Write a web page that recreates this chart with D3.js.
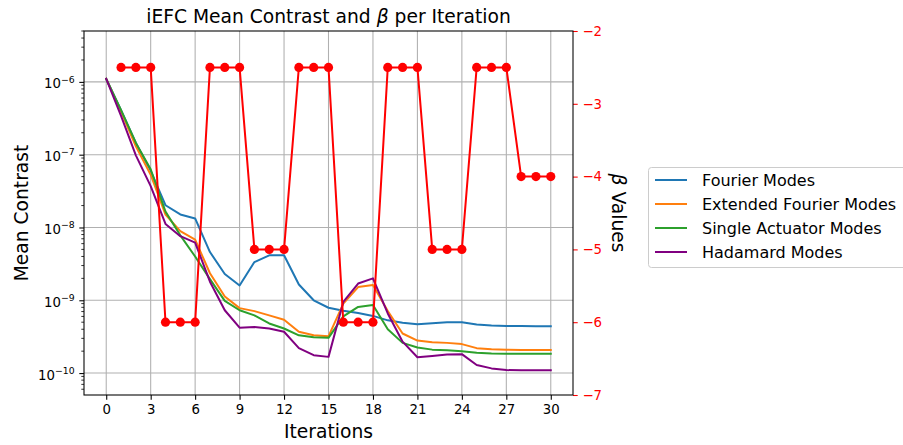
<!DOCTYPE html>
<html>
<head>
<meta charset="utf-8">
<script src="https://cdn.jsdelivr.net/npm/d3@7"></script>
<style>
  body { margin: 0; background: #fff; }
  svg { display: block; font-family: "DejaVu Sans", sans-serif; }
</style>
</head>
<body>
<svg id="chart" width="903" height="445"></svg>
<script>
// Iteration index shared by all contrast series
const iterations = [0, 1, 2, 3, 4, 5, 6, 7, 8, 9, 10, 11, 12, 13, 14, 15,
  16, 17, 18, 19, 20, 21, 22, 23, 24, 25, 26, 27, 28, 29, 30];

// Mean contrast per iteration for each calibration mode set
const fourierModes = [1.1e-6, 4.1e-7, 1.45e-7, 6.0e-8, 2.02e-8, 1.51e-8, 1.33e-8, 4.6e-9,
  2.3e-9, 1.6e-9, 3.35e-9, 4.15e-9, 4.15e-9, 1.65e-9, 1.0e-9, 7.9e-10, 7.2e-10, 6.7e-10,
  6.1e-10, 5.3e-10, 4.9e-10, 4.7e-10, 4.85e-10, 5.0e-10, 5.0e-10, 4.65e-10, 4.5e-10,
  4.45e-10, 4.42e-10, 4.4e-10, 4.4e-10];
const extendedFourierModes = [1.1e-6, 3.9e-7, 1.3e-7, 5.3e-8, 1.5e-8, 8.9e-9, 6.8e-9, 2.35e-9,
  1.13e-9, 7.8e-10, 7.1e-10, 6.2e-10, 5.4e-10, 3.7e-10, 3.3e-10, 3.2e-10, 9.0e-10, 1.52e-9,
  1.62e-9, 7.1e-10, 3.5e-10, 2.8e-10, 2.65e-10, 2.6e-10, 2.5e-10, 2.2e-10, 2.13e-10,
  2.1e-10, 2.08e-10, 2.08e-10, 2.08e-10];
const singleActuatorModes = [1.1e-6, 4.1e-7, 1.45e-7, 6.3e-8, 1.65e-8, 7.8e-9, 4.0e-9, 1.95e-9,
  9.8e-10, 7.3e-10, 6.2e-10, 4.8e-10, 4.1e-10, 3.3e-10, 3.1e-10, 3.05e-10, 6.0e-10, 8.1e-10,
  8.6e-10, 4.0e-10, 2.6e-10, 2.25e-10, 2.1e-10, 2.06e-10, 2.0e-10, 1.9e-10, 1.86e-10,
  1.84e-10, 1.84e-10, 1.84e-10, 1.84e-10];
const hadamardModes = [1.1e-6, 3.4e-7, 9.8e-8, 3.7e-8, 1.12e-8, 7.6e-9, 6.2e-9, 1.8e-9,
  7.3e-10, 4.2e-10, 4.3e-10, 4.1e-10, 3.7e-10, 2.2e-10, 1.76e-10, 1.67e-10, 9.5e-10, 1.7e-9,
  2.0e-9, 6.6e-10, 2.7e-10, 1.65e-10, 1.72e-10, 1.8e-10, 1.82e-10, 1.29e-10, 1.16e-10,
  1.1e-10, 1.09e-10, 1.09e-10, 1.09e-10];

// Regularisation exponent beta used at each iteration
const betaIterations = [1, 2, 3, 4, 5, 6, 7, 8, 9, 10, 11, 12, 13, 14, 15,
  16, 17, 18, 19, 20, 21, 22, 23, 24, 25, 26, 27, 28, 29, 30];
const betaValues = [-2.5, -2.5, -2.5, -6, -6, -6, -2.5, -2.5, -2.5, -5, -5, -5,
  -2.5, -2.5, -2.5, -6, -6, -6, -2.5, -2.5, -2.5, -5, -5, -5,
  -2.5, -2.5, -2.5, -4, -4, -4];

const seriesNames = ["Fourier Modes", "Extended Fourier Modes", "Single Actuator Modes", "Hadamard Modes"];
const seriesData = [fourierModes, extendedFourierModes, singleActuatorModes, hadamardModes];

// Tick values
const xTicks = [0, 3, 6, 9, 12, 15, 18, 21, 24, 27, 30];
const contrastTicks = [1e-10, 1e-9, 1e-8, 1e-7, 1e-6];
const betaTicks = [-7, -6, -5, -4, -3, -2];

const colors = ["#1f77b4", "#ff7f0e", "#2ca02c", "#800080"];
const betaColor = "#ff0000";

const plot = { left: 84, right: 573, top: 31, bottom: 395 };
const svg = d3.select("#chart");

const x = d3.scaleLinear().domain([-1.5, 31.5]).range([plot.left, plot.right]);
const y = d3.scaleLog().domain([5e-11, 5e-6]).range([plot.bottom, plot.top]);
const yBeta = d3.scaleLinear().domain([-7, -2]).range([plot.bottom, plot.top]);

// Grid
const grid = svg.append("g").attr("stroke", "#b0b0b0").attr("stroke-width", 1.07);
grid.selectAll("line.gx").data(xTicks).join("line")
  .attr("x1", d => x(d)).attr("x2", d => x(d))
  .attr("y1", plot.top).attr("y2", plot.bottom);
grid.selectAll("line.gy").data(contrastTicks).join("line")
  .attr("x1", plot.left).attr("x2", plot.right)
  .attr("y1", d => y(d)).attr("y2", d => y(d));

// Contrast lines
const line = d3.line().x((d, i) => x(iterations[i])).y(d => y(d));
seriesData.forEach((s, k) => {
  svg.append("path").datum(s)
    .attr("fill", "none").attr("stroke", colors[k]).attr("stroke-width", 2)
    .attr("stroke-linejoin", "round").attr("stroke-linecap", "square")
    .attr("d", line);
});

// Beta line with markers (right axis)
const betaLine = d3.line().x((d, i) => x(betaIterations[i])).y(d => yBeta(d));
svg.append("path").datum(betaValues)
  .attr("fill", "none").attr("stroke", betaColor).attr("stroke-width", 2)
  .attr("stroke-linejoin", "round").attr("d", betaLine);
svg.append("g").selectAll("circle").data(betaValues).join("circle")
  .attr("cx", (d, i) => x(betaIterations[i])).attr("cy", d => yBeta(d))
  .attr("r", 4.6).attr("fill", betaColor);

// Bottom axis
const xAxis = svg.append("g").attr("transform", `translate(0,${plot.bottom})`)
  .call(d3.axisBottom(x).tickValues(xTicks).tickSize(4.7).tickPadding(4.7).tickFormat(d3.format("d")));
xAxis.select(".domain").remove();
xAxis.selectAll("line").attr("stroke", "#000").attr("stroke-width", 1.07);
xAxis.selectAll("text").attr("font-size", "13.3px").attr("fill", "#000")
  .attr("font-family", '"DejaVu Sans", sans-serif');

// Left log axis
const yAxis = svg.append("g").attr("transform", `translate(${plot.left},0)`)
  .call(d3.axisLeft(y).tickValues(contrastTicks).tickSize(4.7).tickPadding(4.7).tickFormat(() => ""));
yAxis.select(".domain").remove();
yAxis.selectAll("line").attr("stroke", "#000").attr("stroke-width", 1.07);
yAxis.selectAll(".tick text").each(function (d) {
  const t = d3.select(this)
    .attr("font-size", "13.3px").attr("fill", "#000")
    .attr("font-family", '"DejaVu Sans", sans-serif')
    .attr("dy", "0.45em");
  const e = Math.round(Math.log10(d));
  t.append("tspan").text("10");
  t.append("tspan").attr("font-size", "9.3px").attr("dy", "-0.62em")
    .text("\u2212" + Math.abs(e));
});

// Minor ticks on the log axis
const minor = [];
for (let e = -11; e <= -6; e++) {
  for (let m = 2; m <= 9; m++) {
    const v = m * Math.pow(10, e);
    if (v >= 5e-11 && v <= 5e-6) minor.push(v);
  }
}
svg.append("g").selectAll("line").data(minor).join("line")
  .attr("x1", plot.left - 2.7).attr("x2", plot.left)
  .attr("y1", d => y(d)).attr("y2", d => y(d))
  .attr("stroke", "#000").attr("stroke-width", 0.8);

// Right beta axis
const bAxis = svg.append("g").attr("transform", `translate(${plot.right},0)`)
  .call(d3.axisRight(yBeta).tickValues(betaTicks).tickSize(4.7).tickPadding(4.7)
    .tickFormat(d => (d < 0 ? "\u2212" : "") + Math.abs(d)));
bAxis.select(".domain").remove();
bAxis.selectAll("line").attr("stroke", betaColor).attr("stroke-width", 1.07);
bAxis.selectAll("text").attr("font-size", "13.3px").attr("fill", betaColor)
  .attr("font-family", '"DejaVu Sans", sans-serif');

// Frame
svg.append("rect")
  .attr("x", plot.left).attr("y", plot.top)
  .attr("width", plot.right - plot.left).attr("height", plot.bottom - plot.top)
  .attr("fill", "none").attr("stroke", "#000").attr("stroke-width", 1.07);

// Title and axis labels
const title = svg.append("text").attr("x", (plot.left + plot.right) / 2).attr("y", 23)
  .attr("text-anchor", "middle").attr("font-size", "18.7px").attr("fill", "#000");
title.append("tspan").text("iEFC Mean Contrast and ");
title.append("tspan").attr("font-style", "italic").text("\u03b2");
title.append("tspan").text(" per Iteration");

svg.append("text").attr("x", (plot.left + plot.right) / 2).attr("y", 438)
  .attr("text-anchor", "middle").attr("font-size", "18.7px").attr("fill", "#000")
  .text("Iterations");

svg.append("text").attr("transform", `translate(28,${(plot.top + plot.bottom) / 2}) rotate(-90)`)
  .attr("text-anchor", "middle").attr("font-size", "18.7px").attr("fill", "#000")
  .text("Mean Contrast");

const bLabel = svg.append("text")
  .attr("transform", `translate(612,${(plot.top + plot.bottom) / 2}) rotate(90)`)
  .attr("text-anchor", "middle").attr("font-size", "18.7px").attr("fill", "#000");
bLabel.append("tspan").attr("font-style", "italic").text("\u03b2");
bLabel.append("tspan").text(" Values");

// Legend
const legend = svg.append("g");
legend.append("rect")
  .attr("x", 648.5).attr("y", 167.5).attr("width", 262).attr("height", 100)
  .attr("rx", 3).attr("fill", "#fff").attr("fill-opacity", 0.8)
  .attr("stroke", "#cccccc").attr("stroke-width", 1);
seriesNames.forEach((name, k) => {
  const cy = 180 + k * 24;
  legend.append("line").attr("x1", 655).attr("x2", 687).attr("y1", cy).attr("y2", cy)
    .attr("stroke", colors[k]).attr("stroke-width", 2);
  legend.append("text").attr("x", 702).attr("y", cy).attr("dy", "0.36em")
    .attr("font-size", "16px").attr("fill", "#000").text(name);
});
</script>
</body>
</html>
